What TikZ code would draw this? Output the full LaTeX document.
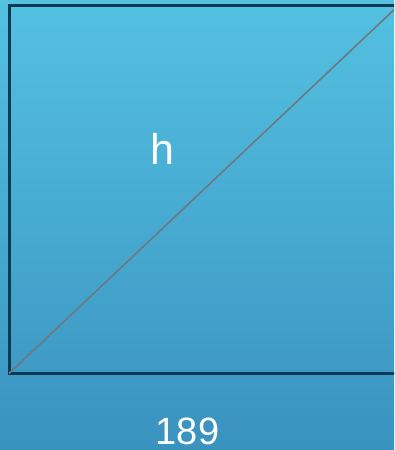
\documentclass[tikz,border=0pt]{standalone}
\usepackage{fontspec}
\setmainfont{Liberation Sans}
\definecolor{bgtop}{HTML}{54C1E1}
\definecolor{bgbot}{HTML}{3A92BF}
\definecolor{frame}{HTML}{0B3A55}
\definecolor{diag}{HTML}{6E7880}
\tikzset{
  framebox/.style={draw=frame, line width=3pt},
  diagline/.style={draw=diag, line width=1.6pt},
  lbl/.style={text=white, inner sep=0pt, anchor=center},
}
\begin{document}
\begin{tikzpicture}[x=1pt,y=1pt]
\useasboundingbox (0,0) rectangle (394,450);
\shade[top color=bgtop, bottom color=bgbot] (0,0) rectangle (394,450);
\clip (0,0) rectangle (394,450);
\coordinate (bl) at (9,76.5);
\coordinate (tr) at (398,444);
\draw[framebox] (bl) rectangle (tr);
\draw[diagline] (bl) -- (tr);
\node[lbl, font=\fontsize{43}{43}\selectfont] (h) at (162.7,301.5) {h};
\node[lbl, font=\fontsize{38}{38}\selectfont] (base) at (187.5,18.5) {189};
\end{tikzpicture}
\end{document}
